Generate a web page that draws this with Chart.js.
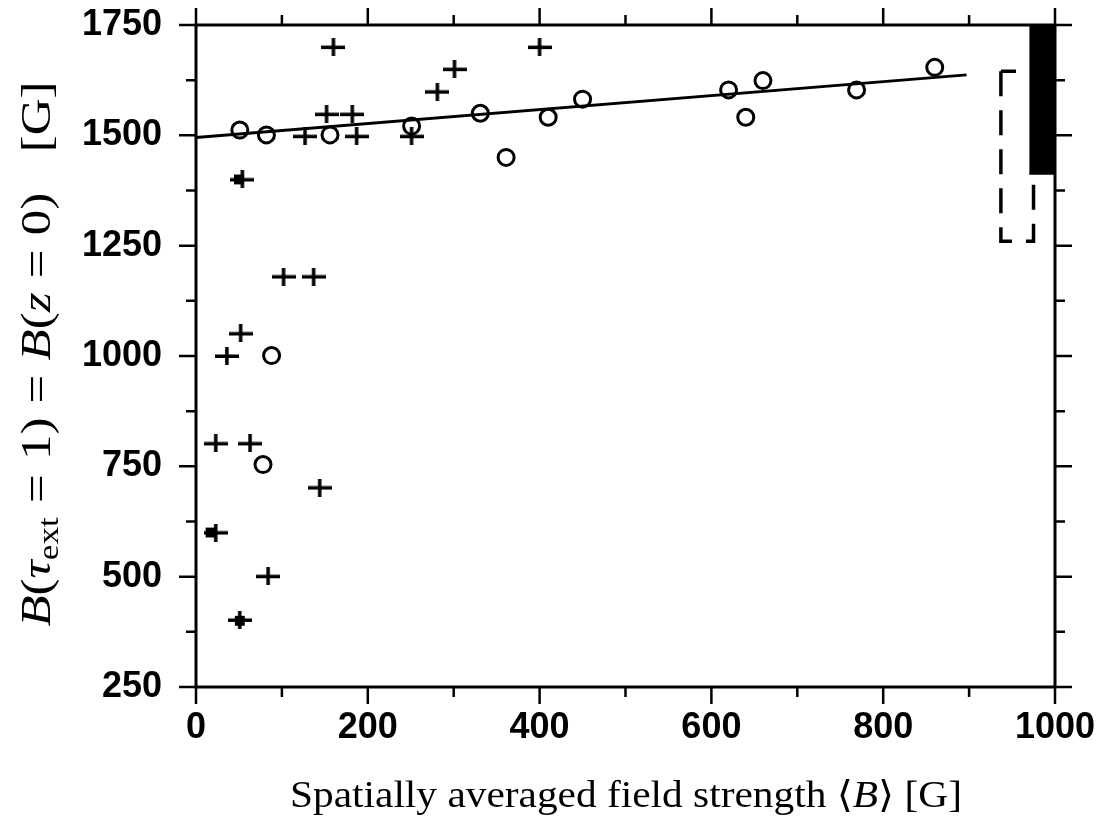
<!DOCTYPE html>
<html>
<head>
<meta charset="utf-8">
<script src="https://cdn.jsdelivr.net/npm/chart.js@4"></script>
<style>
  body { margin: 0; background: #fff; }
  #wrap { width: 1108px; height: 820px; position: relative; }
</style>
</head>
<body>
<div id="wrap"><canvas id="chart"></canvas></div>
<script>
// spatially averaged <B> vs B(tau=1)
const circleX = [51, 82, 156, 251, 331, 361, 410, 450, 620, 640, 660, 769, 860, 88, 78];
const circleY = [1512, 1501, 1501, 1521, 1550, 1450, 1541, 1582, 1603, 1541, 1624, 1603, 1654, 1001, 754];

const crossX = [160, 400, 301, 281, 152, 182, 127, 187, 251, 54, 102, 137, 52, 36, 23, 63, 144, 23, 84, 51];
const crossY = [1700, 1700, 1650, 1599, 1548, 1548, 1498, 1498, 1498, 1400, 1180, 1180, 1051, 1000, 802, 802, 702, 600, 501, 402];

// overplotted (blotted) points
const blobX = [50, 17, 51];
const blobY = [1400, 600, 400];

// linear fit
const fitX = [0, 897];
const fitY = [1495, 1637];

// range boxes at the right edge
const barX = [970, 1000];
const barY = [1412, 1412];
const dashX = [937, 937, 975, 975, 937];
const dashY = [1645, 1260, 1260, 1645, 1645];

const xTicks = [0, 200, 400, 600, 800, 1000];
const yTicks = [250, 500, 750, 1000, 1250, 1500, 1750];

const pts = (xs, ys) => xs.map((x, i) => ({ x, y: ys[i] }));

// cross marker, wider than tall like in the print
const crossImg = document.createElement("canvas");
crossImg.width = 24;
crossImg.height = 18;
{
  const c = crossImg.getContext("2d");
  c.fillStyle = "#000";
  c.fillRect(0, 7.5, 24, 3.5);
  c.fillRect(10.2, 0, 3.5, 18);
}

const frame = {
  id: "frame",
  afterDraw(chart) {
    const { ctx, chartArea: a, scales } = chart;
    const xs = scales.x, ys = scales.y;
    ctx.save();
    ctx.strokeStyle = "#000";
    ctx.lineWidth = 3;
    ctx.strokeRect(a.left, a.top, a.right - a.left, a.bottom - a.top);
    ctx.lineWidth = 2.5;
    const major = 17, minor = 10;
    ctx.beginPath();
    for (let v = 0; v <= 1000; v += 100) {
      const p = xs.getPixelForValue(v);
      const l = v % 200 === 0 ? major : minor;
      ctx.moveTo(p, a.bottom); ctx.lineTo(p, a.bottom + l);
      ctx.moveTo(p, a.top); ctx.lineTo(p, a.top - l);
    }
    for (let v = 250; v <= 1750; v += 125) {
      const p = ys.getPixelForValue(v);
      const l = v % 250 === 0 ? major : minor;
      ctx.moveTo(a.left, p); ctx.lineTo(a.left - l, p);
      ctx.moveTo(a.right, p); ctx.lineTo(a.right + l, p);
    }
    ctx.stroke();

    ctx.fillStyle = "#000";
    ctx.textBaseline = "alphabetic";
    const serif = "'Liberation Serif', 'DejaVu Serif', serif";
    // draws a run of text pieces centred on the origin, stretched to span `target` px
    const run = (segs, size, target) => {
      const fontOf = (s) => `${s.it ? "italic " : ""}${s.sz || size}px ${serif}`;
      let w = 0;
      segs.forEach((s) => {
        if (s.gap) { s.w = s.gap * size; } else { ctx.font = fontOf(s); s.w = ctx.measureText(s.t).width; }
        w += s.w;
      });
      ctx.scale(target / w, 1);
      let x = -w / 2;
      segs.forEach((s) => {
        if (!s.gap) { ctx.font = fontOf(s); ctx.fillText(s.t, x, s.dy || 0); }
        x += s.w;
      });
    };

    // x title
    ctx.save();
    ctx.translate(626, 807);
    run([
      { t: "Spatially averaged field strength " },
      { t: "\u27E8" },
      { t: "B", it: true },
      { t: "\u27E9 [G]" },
    ], 37, 672);
    ctx.restore();

    // y title
    const eq = [{ gap: 0.28 }, { t: "=" }, { gap: 0.28 }];
    ctx.save();
    ctx.translate(50, 354);
    ctx.rotate(-Math.PI / 2);
    run([
      { t: "B", it: true },
      { t: "(" },
      { t: "\u03C4", it: true },
      { t: "ext", sz: 29, dy: 8 },
      ...eq,
      { t: "1)" },
      ...eq,
      { t: "B", it: true },
      { t: "(" },
      { t: "z", it: true },
      ...eq,
      { t: "0)" },
      { gap: 0.8 },
      { t: "[G]" },
    ], 42, 545);
    ctx.restore();
    ctx.restore();
  },
};

const tickFont = { family: "'Liberation Sans', Arial, sans-serif", size: 36, weight: "bold" };

new Chart(document.getElementById("chart"), {
  type: "line",
  data: {
    datasets: [
      {
        label: "crosses",
        data: pts(crossX, crossY),
        showLine: false,
        pointStyle: crossImg,
        pointRadius: 12,
        order: 0,
      },
      {
        label: "circles",
        data: pts(circleX, circleY),
        showLine: false,
        pointStyle: "circle",
        pointRadius: 8,
        borderWidth: 3,
        pointBorderWidth: 3,
        borderColor: "#000",
        backgroundColor: "rgba(0,0,0,0)",
        order: 1,
      },
      {
        label: "blots",
        data: pts(blobX, blobY),
        showLine: false,
        pointStyle: "rect",
        pointRadius: 7,
        borderWidth: 0,
        backgroundColor: "#000",
        order: 2,
      },
      {
        label: "fit",
        data: pts(fitX, fitY),
        borderColor: "#000",
        borderWidth: 3,
        pointRadius: 0,
        order: 3,
      },
      {
        label: "bar",
        data: pts(barX, barY),
        borderColor: "#000",
        borderWidth: 1,
        backgroundColor: "#000",
        fill: "end",
        pointRadius: 0,
        order: 4,
      },
      {
        label: "dashed",
        data: pts(dashX, dashY),
        borderColor: "#000",
        borderWidth: 3.5,
        borderDash: [25, 14],
        pointRadius: 0,
        order: 5,
      },
    ],
  },
  options: {
    responsive: true,
    maintainAspectRatio: false,
    animation: false,
    events: [],
    layout: { padding: { top: 25, right: 53, left: 0, bottom: 0 } },
    plugins: { legend: { display: false }, tooltip: { enabled: false } },
    scales: {
      x: {
        type: "linear",
        min: 0,
        max: 1000,
        afterBuildTicks: (s) => { s.ticks = xTicks.map((value) => ({ value })); },
        afterFit: (s) => {
          s.height = 133;
          s.paddingLeft = s.paddingRight = s.paddingTop = s.paddingBottom = 0;
        },
        grid: { display: false, drawTicks: false },
        border: { display: false },
        ticks: { font: tickFont, color: "#000", padding: 19, maxRotation: 0, callback: (v) => String(v) },
      },
      y: {
        type: "linear",
        min: 250,
        max: 1750,
        afterBuildTicks: (s) => { s.ticks = yTicks.map((value) => ({ value })); },
        afterFit: (s) => {
          s.width = 196;
          s.paddingLeft = s.paddingRight = s.paddingTop = s.paddingBottom = 0;
        },
        grid: { display: false, drawTicks: false },
        border: { display: false },
        ticks: { font: tickFont, color: "#000", padding: 34, callback: (v) => String(v) },
      },
    },
  },
  plugins: [frame],
});
</script>
</body>
</html>
